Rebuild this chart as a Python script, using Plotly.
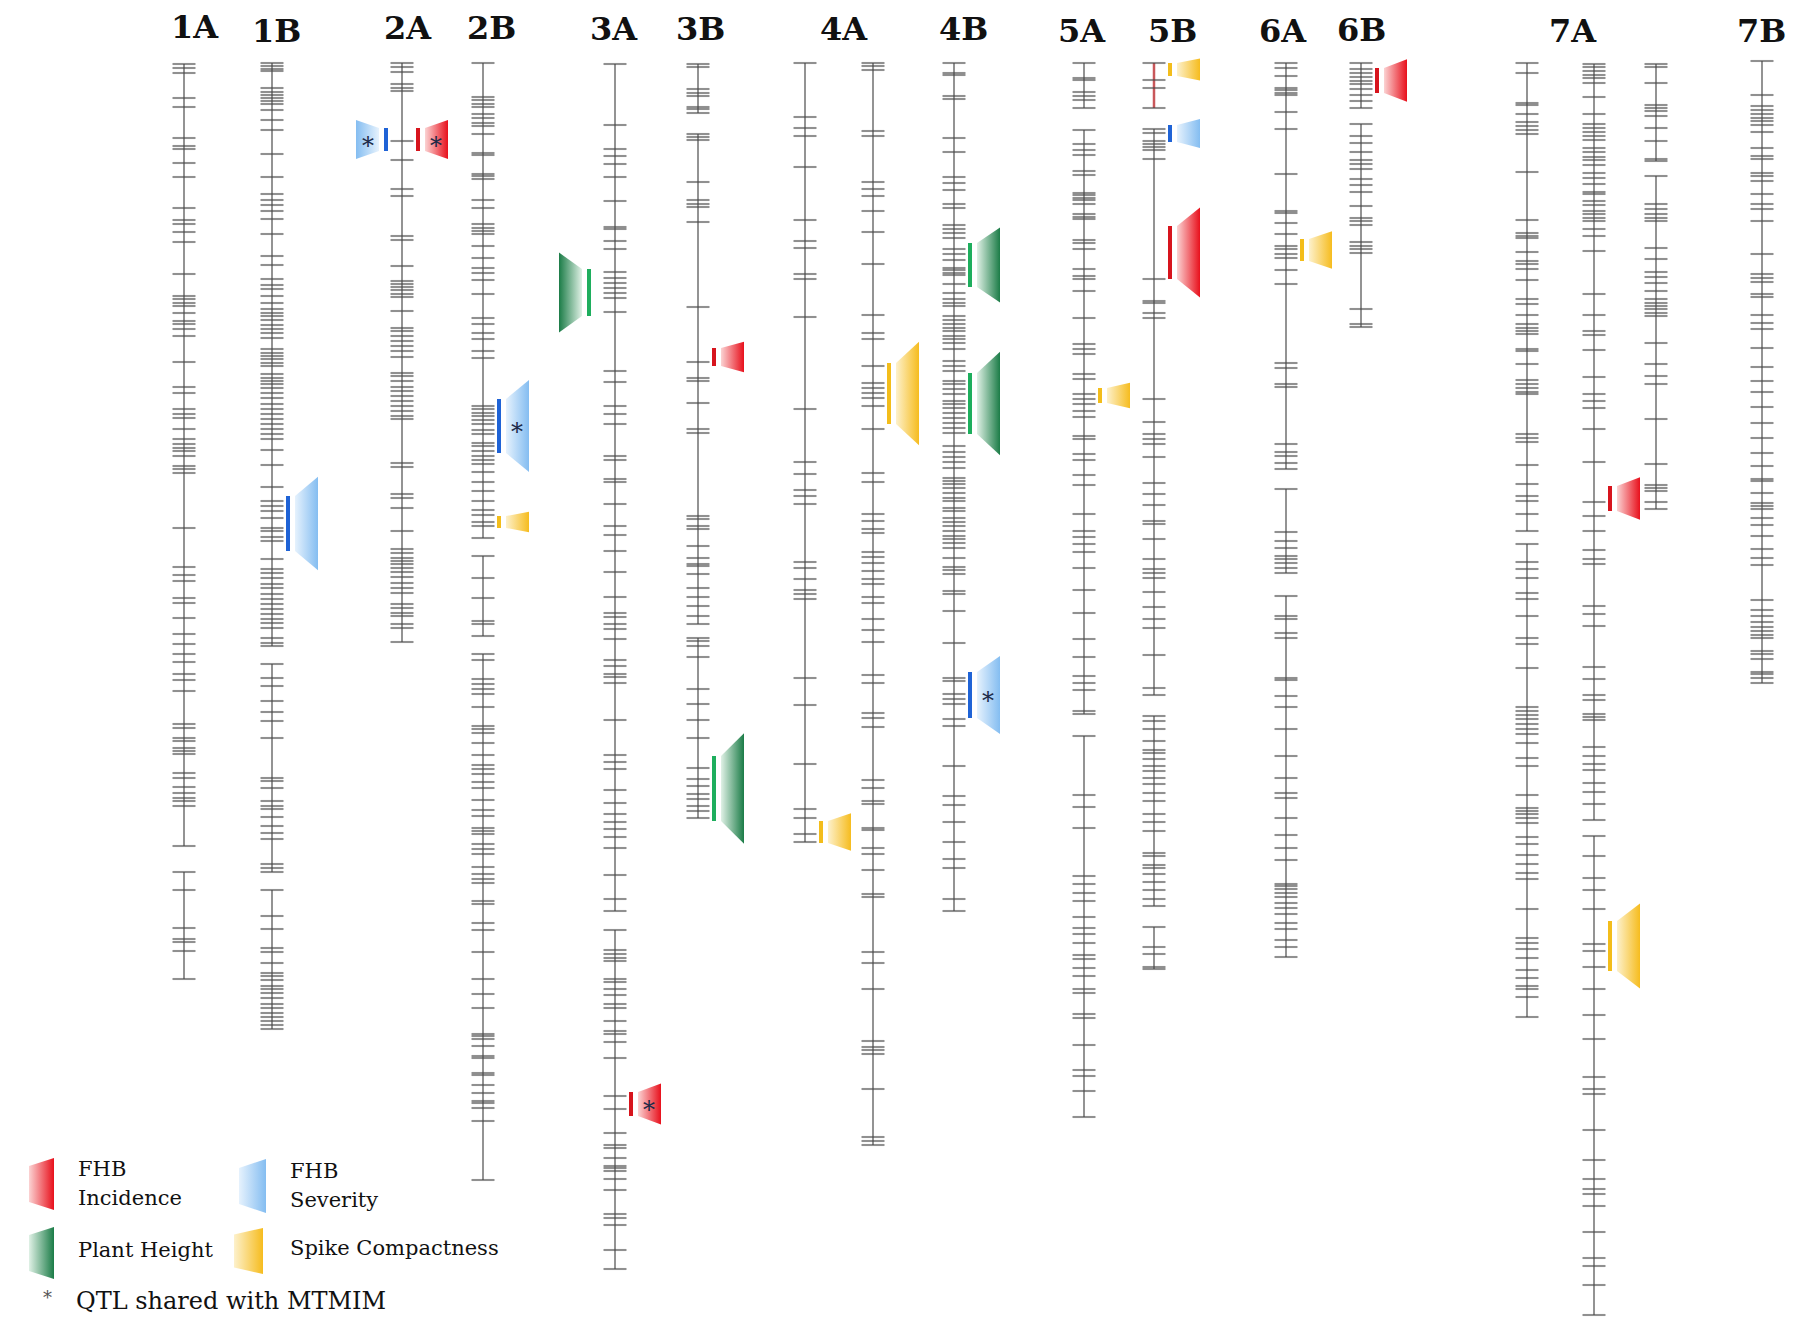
import plotly.graph_objects as go

# ---- marker positions on each linkage group (map units) ----
markers_1A = [63, 67, 72, 97, 106, 137, 145, 148, 162, 176, 207, 219, 223, 231, 241, 273, 295, 298, 302, 305,
              312, 320, 323, 328, 335, 361, 386, 392, 408, 413, 417, 428, 438, 443, 447, 450, 455, 465, 468, 472,
              527, 566, 574, 580, 597, 602, 617, 633, 643, 653, 661, 673, 679, 690, 723, 727, 737, 740, 747, 750,
              753, 772, 777, 786, 792, 797, 800, 805, 845, 871, 889, 927, 938, 941, 950, 978]
markers_1B = [62, 65, 68, 70, 87, 91, 94, 97, 100, 103, 109, 119, 129, 153, 176, 193, 199, 204, 210, 218, 233,
              255, 264, 278, 284, 288, 295, 302, 308, 312, 315, 319, 324, 328, 332, 337, 348, 352, 355, 358, 362,
              365, 373, 377, 380, 383, 387, 392, 397, 403, 408, 413, 418, 423, 428, 433, 438, 449, 464, 486, 500,
              505, 510, 517, 527, 530, 536, 540, 558, 568, 572, 577, 583, 587, 593, 598, 603, 608, 613, 618, 622,
              627, 637, 642, 645, 663, 677, 685, 700, 711, 720, 737, 777, 780, 787, 800, 805, 808, 816, 825, 832,
              838, 863, 867, 871, 889, 915, 928, 947, 951, 962, 972, 975, 979, 985, 988, 992, 997, 1003, 1007,
              1012, 1016, 1020, 1024, 1028]
markers_2A = [62, 66, 71, 83, 87, 90, 140, 159, 188, 195, 235, 239, 265, 280, 283, 286, 289, 293, 296, 310, 327,
              330, 335, 340, 345, 350, 356, 372, 375, 380, 386, 390, 395, 400, 405, 410, 415, 418, 462, 466, 493,
              497, 507, 530, 548, 552, 557, 560, 563, 567, 571, 576, 582, 587, 592, 603, 607, 612, 615, 623, 627, 641]
markers_2B = [62, 96, 99, 103, 106, 113, 117, 122, 125, 133, 152, 154, 173, 175, 178, 199, 207, 223, 227, 230,
              233, 245, 257, 267, 272, 279, 293, 317, 323, 332, 338, 350, 357, 405, 408, 412, 415, 419, 423, 429,
              433, 442, 445, 450, 455, 459, 463, 471, 481, 490, 500, 509, 514, 521, 525, 537, 555, 577, 597, 620,
              623, 635, 653, 659, 678, 683, 688, 693, 706, 725, 728, 732, 742, 754, 764, 768, 773, 781, 787, 799,
              809, 815, 827, 830, 833, 843, 848, 853, 866, 873, 878, 882, 900, 903, 922, 929, 951, 978, 993, 1007,
              1033, 1035, 1038, 1045, 1055, 1057, 1072, 1074, 1084, 1092, 1100, 1102, 1107, 1120, 1179]
markers_3A = [63, 124, 148, 155, 163, 176, 200, 226, 228, 240, 248, 271, 277, 282, 287, 292, 297, 311, 370, 381,
              405, 413, 423, 455, 459, 478, 481, 503, 525, 534, 550, 571, 596, 612, 616, 623, 628, 638, 659, 665,
              673, 676, 682, 719, 754, 761, 768, 789, 802, 813, 821, 828, 836, 847, 874, 898, 910, 929, 949, 953,
              957, 960, 978, 981, 988, 994, 1003, 1007, 1020, 1030, 1033, 1041, 1057, 1095, 1108, 1132, 1144,
              1147, 1157, 1165, 1167, 1170, 1178, 1189, 1213, 1217, 1224, 1249, 1268]
markers_3B = [63, 66, 88, 92, 95, 106, 108, 112, 133, 136, 139, 181, 199, 203, 206, 221, 306, 361, 377, 380, 402,
              428, 432, 515, 518, 525, 528, 545, 557, 563, 565, 573, 587, 596, 605, 615, 623, 637, 640, 645, 656,
              688, 703, 719, 737, 767, 778, 785, 793, 798, 805, 810, 817]
markers_4A1 = [62, 116, 127, 135, 166, 219, 240, 247, 273, 278, 316, 408, 461, 473, 489, 495, 503, 561, 567, 578,
               589, 593, 598, 677, 704, 763, 808, 817, 833, 841]
markers_4A2 = [62, 65, 69, 130, 135, 181, 188, 195, 210, 231, 263, 314, 332, 338, 365, 382, 387, 392, 397, 405,
               428, 472, 481, 513, 520, 528, 532, 551, 556, 562, 570, 578, 583, 596, 602, 618, 629, 641, 674, 682,
               712, 717, 726, 779, 787, 800, 803, 827, 829, 847, 853, 869, 893, 896, 951, 962, 988, 1040, 1046,
               1049, 1053, 1088, 1136, 1140, 1144]
markers_4B = [62, 72, 74, 95, 98, 137, 151, 176, 182, 189, 203, 207, 224, 228, 232, 237, 248, 253, 259, 267, 269,
              272, 274, 283, 292, 298, 302, 305, 315, 319, 323, 327, 330, 335, 338, 342, 348, 360, 365, 370, 380,
              383, 388, 393, 400, 403, 407, 412, 417, 422, 427, 432, 445, 451, 456, 461, 467, 477, 480, 483, 487,
              492, 497, 500, 507, 510, 517, 521, 525, 530, 535, 538, 542, 547, 557, 566, 569, 573, 590, 593, 610,
              642, 677, 680, 693, 698, 703, 718, 725, 765, 795, 804, 821, 841, 858, 867, 898, 910]
markers_5A = [62, 77, 79, 91, 95, 99, 107, 129, 143, 149, 154, 170, 174, 192, 194, 197, 199, 203, 213, 216, 218,
              239, 242, 248, 268, 275, 278, 290, 317, 343, 348, 353, 373, 378, 393, 398, 403, 410, 416, 435, 438,
              453, 459, 474, 484, 513, 530, 536, 543, 551, 567, 589, 612, 638, 656, 675, 682, 689, 710, 713, 735,
              794, 806, 827, 875, 883, 892, 900, 916, 927, 933, 942, 954, 958, 967, 975, 988, 992, 1013, 1017,
              1044, 1069, 1075, 1090, 1116]
markers_5B = [62, 79, 87, 107, 128, 132, 140, 143, 146, 149, 158, 278, 300, 302, 312, 317, 398, 421, 433, 438, 443,
              456, 482, 493, 504, 520, 523, 538, 558, 568, 572, 577, 591, 606, 618, 627, 654, 687, 694, 715, 720,
              728, 740, 749, 752, 758, 765, 770, 777, 783, 792, 800, 813, 821, 830, 852, 855, 864, 867, 873, 881,
              889, 898, 905, 926, 946, 953, 966, 968]
markers_6A = [62, 67, 75, 87, 89, 92, 94, 111, 128, 173, 210, 212, 222, 233, 245, 248, 253, 257, 269, 283, 362,
              367, 383, 386, 443, 451, 455, 462, 468, 488, 531, 540, 547, 555, 558, 562, 567, 572, 595, 615, 618,
              632, 637, 677, 679, 695, 706, 728, 755, 777, 792, 797, 817, 834, 847, 859, 883, 885, 888, 892, 896,
              902, 907, 913, 922, 928, 939, 946, 956]
markers_6B = [62, 68, 72, 76, 80, 83, 88, 94, 100, 107, 123, 135, 142, 151, 159, 163, 168, 178, 184, 191, 205,
              217, 220, 224, 241, 245, 248, 252, 308, 323, 326]
markers_7A1 = [62, 72, 102, 104, 113, 121, 125, 129, 133, 171, 219, 232, 235, 237, 251, 260, 263, 268, 279, 298,
               303, 314, 323, 327, 330, 333, 348, 350, 363, 379, 383, 387, 391, 393, 433, 437, 441, 464, 483, 495,
               500, 513, 530, 543, 561, 568, 577, 592, 598, 615, 637, 643, 667, 706, 710, 714, 718, 723, 728, 733,
               742, 757, 765, 794, 807, 810, 813, 817, 822, 836, 843, 854, 863, 872, 878, 908, 937, 942, 948, 957,
               969, 977, 985, 988, 996, 1016]
markers_7A2 = [63, 66, 70, 74, 77, 82, 96, 113, 123, 127, 131, 135, 139, 147, 151, 156, 159, 164, 172, 177, 183,
               191, 193, 200, 204, 210, 213, 217, 220, 228, 235, 250, 293, 314, 330, 334, 349, 376, 393, 400, 407,
               428, 461, 501, 515, 530, 549, 558, 563, 605, 613, 625, 666, 678, 694, 699, 713, 716, 719, 746, 755,
               763, 769, 782, 791, 803, 819, 835, 855, 877, 889, 908, 943, 950, 966, 988, 1014, 1038, 1076, 1088,
               1093, 1129, 1159, 1178, 1188, 1193, 1205, 1231, 1257, 1265, 1284, 1314]
markers_7A3 = [63, 66, 82, 104, 107, 110, 115, 127, 140, 158, 160, 175, 203, 208, 213, 217, 220, 247, 258, 271,
               276, 282, 290, 298, 302, 305, 308, 312, 315, 342, 363, 375, 383, 418, 463, 484, 487, 490, 501, 508]
markers_7B = [60, 94, 105, 109, 113, 117, 120, 124, 131, 147, 155, 158, 172, 175, 180, 193, 203, 208, 220, 253,
              273, 277, 281, 293, 296, 314, 322, 328, 347, 366, 380, 391, 406, 422, 437, 452, 465, 478, 480, 492,
              502, 505, 508, 517, 524, 535, 548, 557, 564, 599, 609, 615, 621, 626, 630, 634, 637, 650, 653, 658,
              671, 673, 677, 682]

groups = ["1A", "1B", "2A", "2B", "3A", "3B", "4A1", "4A2", "4B", "5A", "5B", "6A", "6B", "7A1", "7A2", "7A3", "7B"]
markers = [markers_1A, markers_1B, markers_2A, markers_2B, markers_3A, markers_3B, markers_4A1, markers_4A2,
           markers_4B, markers_5A, markers_5B, markers_6A, markers_6B, markers_7A1, markers_7A2, markers_7A3,
           markers_7B]

# breaks in the linkage groups (no line drawn between these markers)
gaps = {
    "1A": [(845, 871)],
    "1B": [(645, 663), (871, 889)],
    "2B": [(537, 555), (635, 653)],
    "3A": [(910, 929)],
    "3B": [(112, 133), (623, 637)],
    "5A": [(107, 129), (713, 735)],
    "5B": [(107, 128), (694, 715), (905, 926)],
    "6A": [(468, 488), (572, 595)],
    "6B": [(107, 123)],
    "7A1": [(530, 543)],
    "7A2": [(819, 835)],
    "7A3": [(160, 175)],
}
red_segment_5B = (62, 107)

chromosomes = ["1A", "1B", "2A", "2B", "3A", "3B", "4A", "4B", "5A", "5B", "6A", "6B", "7A", "7B"]

# ---- QTL: linkage group, side, trait, interval, shared with MTMIM ----
qtl_group = ["2A", "2A", "1B", "2B", "2B", "3A", "3A", "3B", "3B", "4A2", "4A1", "4B", "4B", "4B",
             "5A", "5B", "5B", "5B", "6A", "6B", "7A2", "7A2"]
qtl_side = ["L", "R", "R", "R", "R", "L", "R", "R", "R", "R", "R", "R", "R", "R",
            "R", "R", "R", "R", "R", "R", "R", "R"]
qtl_trait = ["sev", "inc", "sev", "sev", "spk", "ph", "inc", "inc", "ph", "spk", "spk", "ph", "ph", "sev",
             "spk", "spk", "sev", "inc", "spk", "inc", "inc", "spk"]
qtl_start = [127, 127, 495, 398, 515, 268, 1091, 347, 755, 362, 820, 242, 372, 671,
             387, 62, 124, 225, 238, 67, 485, 920]
qtl_end = [150, 150, 550, 452, 527, 315, 1115, 365, 820, 423, 842, 286, 433, 717,
           402, 75, 141, 278, 260, 92, 510, 970]
qtl_star = [True, True, False, True, False, False, True, False, False, False, False, False, False, True,
            False, False, False, False, False, False, False, False]

legend_traits = ["inc", "sev", "ph", "spk"]
legend_text = {"inc": ["FHB", "Incidence"], "sev": ["FHB", "Severity"],
               "ph": ["Plant Height"], "spk": ["Spike Compactness"]}

# ---- layout / style ----
col_x = {"1A": 184, "1B": 272, "2A": 402, "2B": 483, "3A": 615, "3B": 698, "4A1": 805, "4A2": 873,
         "4B": 954, "5A": 1084, "5B": 1154, "6A": 1286, "6B": 1361, "7A1": 1527, "7A2": 1594, "7A3": 1656,
         "7B": 1762}
label_pos = {"1A": (195, 26), "1B": (276, 30), "2A": (408, 27), "2B": (491, 27), "3A": (614, 28),
             "3B": (700, 28), "4A": (844, 28), "4B": (963, 28), "5A": (1082, 30), "5B": (1172, 30),
             "6A": (1283, 30), "6B": (1361, 29), "7A": (1573, 30), "7B": (1761, 30)}
bar_col = {"inc": "#d7141d", "sev": "#1f63d6", "ph": "#1eae5d", "spk": "#f3bd1b"}
pale = {"inc": "#fbd3d3", "sev": "#e6f2fd", "ph": "#e0f1e6", "spk": "#fdf1cc"}
sat = {"inc": "#e8101c", "sev": "#84bdf1", "ph": "#1b7c47", "spk": "#f6bc1e"}
TICK_HALF = 11.5
BAR_GAP = 16
extra_gap = {("3A", "ph"): 26}
SERIF = "DejaVu Serif"
SHIFT_X, SHIFT_Y = 8, 7  # view offset of the page

fig = go.Figure()


def trapezoid(x_in, x_out, yc, h_in, h_out, trait):
    xs = [x_in, x_out, x_out, x_in, x_in]
    ys = [yc - h_in / 2, yc - h_out / 2, yc + h_out / 2, yc + h_in / 2, yc - h_in / 2]
    if x_in < x_out:
        cs = [[0, pale[trait]], [1, sat[trait]]]
    else:
        cs = [[0, sat[trait]], [1, pale[trait]]]
    fig.add_trace(go.Scatter(x=xs, y=ys, mode="lines", fill="toself", line=dict(width=0, color=sat[trait]),
                             fillgradient=dict(type="horizontal", colorscale=cs),
                             hoverinfo="skip", showlegend=False))


# chromosome lines
for g, pos in zip(groups, markers):
    x0 = col_x[g]
    segs = []
    top = pos[0]
    for a, b in gaps.get(g, []):
        segs.append((top, a))
        top = b
    segs.append((top, pos[-1]))
    lx, ly = [], []
    for a, b in segs:
        lx += [x0, x0, None]
        ly += [a, b, None]
    fig.add_trace(go.Scatter(x=lx, y=ly, mode="lines", line=dict(color="rgba(135,135,135,0.9)", width=2),
                             hoverinfo="skip", showlegend=False))

fig.add_trace(go.Scatter(x=[col_x["5B"]] * 2, y=list(red_segment_5B), mode="lines",
                         line=dict(color="#c9575a", width=2.5), hoverinfo="skip", showlegend=False))

# marker ticks
for g, pos in zip(groups, markers):
    x0 = col_x[g]
    tx, ty = [], []
    for p in pos:
        tx += [x0 - TICK_HALF, x0 + TICK_HALF, None]
        ty += [p, p, None]
    fig.add_trace(go.Scatter(x=tx, y=ty, mode="lines", line=dict(color="rgba(70,70,70,0.6)", width=2.1),
                             hoverinfo="skip", showlegend=False, name=g))

# QTL
for g, s, t, a, b, star in zip(qtl_group, qtl_side, qtl_trait, qtl_start, qtl_end, qtl_star):
    d = 1 if s == "R" else -1
    bx = col_x[g] + d * extra_gap.get((g, t), BAR_GAP)
    yc = (a + b) / 2
    h = b - a
    trapezoid(bx + d * 7, bx + d * 30, yc, h, h * 1.7, t)
    fig.add_trace(go.Scatter(x=[bx, bx], y=[a, b], mode="lines", line=dict(color=bar_col[t], width=4),
                             hoverinfo="skip", showlegend=False))
    if star:
        fig.add_annotation(x=bx + d * 18, y=yc, text="*", showarrow=False, yshift=-6,
                           font=dict(family=SERIF, size=24, color="#1c2a48"))

# chromosome labels
for c in chromosomes:
    lx, ly = label_pos[c]
    fig.add_annotation(x=lx, y=ly, text="<b>%s</b>" % c, showarrow=False,
                       font=dict(family=SERIF, size=32, color="#111"))

# legend
leg_geom = {"inc": (29, 54, 1183, 36, 52, 76), "sev": (239, 266, 1185, 36, 54, 288),
            "ph": (29, 54, 1252, 36, 52, 76), "spk": (234, 263, 1250, 33, 46, 288)}
for t in legend_traits:
    xa, xb, yc, hi, ho, tx = leg_geom[t]
    trapezoid(xa, xb, yc, hi, ho, t)
    lines = legend_text[t]
    if len(lines) == 2:
        fig.add_annotation(x=tx, y=yc - 15, text=lines[0], showarrow=False, xanchor="left",
                           font=dict(family=SERIF, size=21, color="#111"))
        fig.add_annotation(x=tx, y=yc + 14, text=lines[1], showarrow=False, xanchor="left",
                           font=dict(family=SERIF, size=21, color="#111"))
    else:
        fig.add_annotation(x=tx, y=yc - 3, text=lines[0], showarrow=False, xanchor="left",
                           font=dict(family=SERIF, size=21, color="#111"))
fig.add_annotation(x=47, y=1296, text="*", showarrow=False, font=dict(family=SERIF, size=18, color="#555"))
fig.add_annotation(x=74, y=1300, text="QTL shared with MTMIM", showarrow=False, xanchor="left",
                   font=dict(family=SERIF, size=24, color="#111"))

fig.update_layout(
    width=1800, height=1335,
    margin=dict(l=0, r=0, t=0, b=0),
    plot_bgcolor="white", paper_bgcolor="white",
    xaxis=dict(range=[SHIFT_X, 1800 + SHIFT_X], visible=False, fixedrange=True),
    yaxis=dict(range=[1335 + SHIFT_Y, SHIFT_Y], visible=False, fixedrange=True),
    showlegend=False,
)

fig.write_html("out.html")
